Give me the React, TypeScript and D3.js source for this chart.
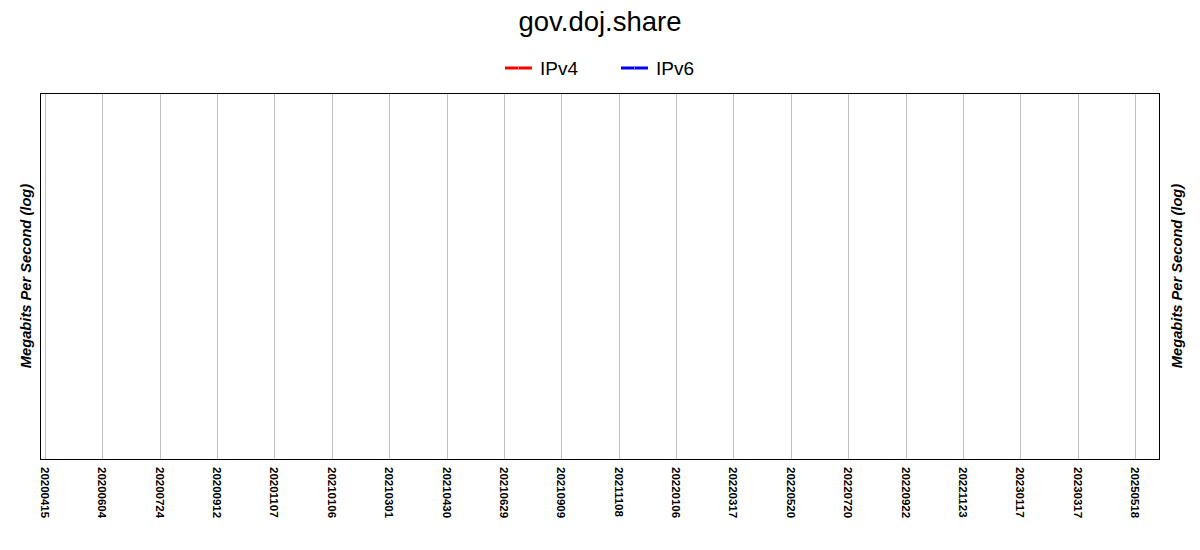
import React, { useEffect, useRef } from "react";
import * as d3 from "d3";

// tick labels along the x axis (dates)
const dateLabels: string[] = [
  "20200415", "20200604", "20200724", "20200912", "20201107",
  "20210106", "20210301", "20210430", "20210629", "20210909",
  "20211108", "20220106", "20220317", "20220520", "20220720",
  "20220922", "20221123", "20230117", "20230317", "20250518",
];

// the chart holds no measurements: both series are empty
const ipv4Values: { date: string; value: number }[] = [];
const ipv6Values: { date: string; value: number }[] = [];

const seriesNames = ["IPv4", "IPv6"];
const seriesColors = ["#ff0000", "#0000ff"];

const W = 1200;
const H = 550;

const App: React.FC = () => {
  const svgRef = useRef<SVGSVGElement | null>(null);

  useEffect(() => {
    if (!svgRef.current) return;
    const svg = d3.select(svgRef.current);
    svg.selectAll("*").remove();

    const font = "'Liberation Sans', Arial, sans-serif";
    const plot = { left: 40.5, top: 93.5, right: 1159.5, bottom: 459.5 };

    const x = d3.scalePoint<string>().domain(dateLabels).range([45, 1135]);
    const y = d3.scaleLog().domain([0.1, 1000]).range([plot.bottom, plot.top]);

    // title
    svg
      .append("text")
      .attr("x", W / 2)
      .attr("y", 31)
      .attr("text-anchor", "middle")
      .attr("font-family", font)
      .attr("font-size", 27.5)
      .text("gov.doj.share");

    // legend
    const legendX = [505, 621];
    seriesNames.forEach((name, i) => {
      const g = svg.append("g").attr("transform", `translate(${legendX[i]},68)`);
      g.append("line")
        .attr("x1", 0)
        .attr("x2", 27)
        .attr("stroke", seriesColors[i])
        .attr("stroke-width", 3);
      g.append("rect")
        .attr("x", 13)
        .attr("y", -0.5)
        .attr("width", 1)
        .attr("height", 1)
        .attr("fill", "#fff");
      g.append("text")
        .attr("x", 35)
        .attr("y", 7)
        .attr("font-family", font)
        .attr("font-size", 19)
        .text(name);
    });

    // vertical grid
    svg
      .append("g")
      .selectAll("line")
      .data(dateLabels)
      .join("line")
      .attr("x1", (d) => Math.round(x(d) ?? 0) + 0.5)
      .attr("x2", (d) => Math.round(x(d) ?? 0) + 0.5)
      .attr("y1", plot.top)
      .attr("y2", plot.bottom)
      .attr("stroke", "#c0c0c0")
      .attr("stroke-width", 1);

    // series lines (empty)
    const line = d3
      .line<{ date: string; value: number }>()
      .x((d) => x(d.date) ?? 0)
      .y((d) => y(d.value));
    [ipv4Values, ipv6Values].forEach((vals, i) => {
      if (!vals.length) return;
      svg
        .append("path")
        .attr("d", line(vals))
        .attr("fill", "none")
        .attr("stroke", seriesColors[i])
        .attr("stroke-width", 2);
    });

    // plot border
    svg
      .append("rect")
      .attr("x", plot.left)
      .attr("y", plot.top)
      .attr("width", plot.right - plot.left)
      .attr("height", plot.bottom - plot.top)
      .attr("fill", "none")
      .attr("stroke", "#000")
      .attr("stroke-width", 1);

    // x tick labels, rotated
    svg
      .append("g")
      .selectAll("text")
      .data(dateLabels)
      .join("text")
      .attr("transform", (d) => `translate(${Math.round(x(d) ?? 0) + 0.5},467) rotate(90)`)
      .attr("dy", "0.35em")
      .attr("font-family", font)
      .attr("font-size", 11.5)
      .attr("font-weight", "bold")
      .text((d) => d);

    // y axis titles, both sides
    [26, 1177].forEach((cx) => {
      svg
        .append("text")
        .attr("transform", `translate(${cx},276) rotate(-90)`)
        .attr("text-anchor", "middle")
        .attr("dy", "0.35em")
        .attr("font-family", font)
        .attr("font-size", 14.7)
        .attr("font-weight", "bold")
        .attr("font-style", "italic")
        .text("Megabits Per Second (log)");
    });
  }, []);

  return (
    <div style={{ position: "absolute", left: 0, top: 0, background: "#fff" }}>
      <svg ref={svgRef} width={W} height={H}></svg>
    </div>
  );
};

export default App;
